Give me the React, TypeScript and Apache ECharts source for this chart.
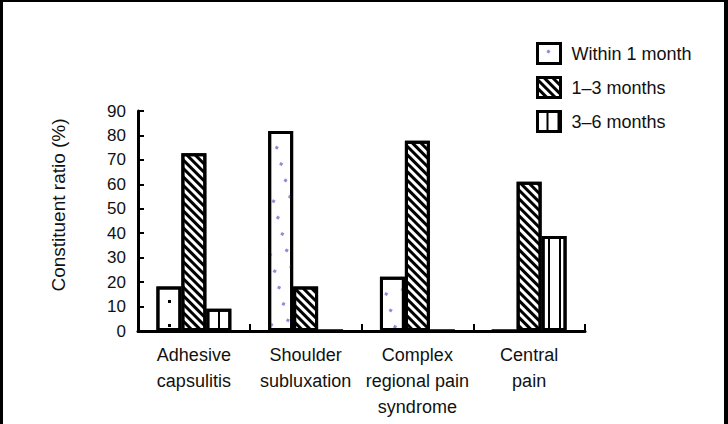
import React, { useEffect, useRef } from "react";
import * as echarts from "echarts";

const categories = [
  "Adhesive\ncapsulitis",
  "Shoulder\nsubluxation",
  "Complex\nregional pain\nsyndrome",
  "Central\npain",
];
const seriesNames = ["Within 1 month", "1–3 months", "3–6 months"];
const within1Month = [18.2, 81.8, 22.2, 0];
const months1to3 = [72.7, 18.2, 77.8, 61.1];
const months3to6 = [9.1, 0, 0, 38.9];
const yAxisName = "Constituent ratio (%)";

const FONT = "Liberation Sans, Arial, sans-serif";

export default function App() {
  const ref = useRef<HTMLDivElement>(null);
  useEffect(() => {
    if (!ref.current) return;
    const chart = echarts.init(ref.current, null, { renderer: "svg" });
    const barStyle = { color: "#fff", borderColor: "#000", borderWidth: 3 };
    const dots = (color: string) => ({
      symbol: "rect",
      symbolSize: 1,
      color,
      dashArrayX: [[3, 21], [0, 12, 3, 9]],
      dashArrayY: [3, 9],
    });
    chart.setOption({
      animation: false,
      backgroundColor: "#fff",
      aria: { enabled: true, decal: { show: true } },
      textStyle: { fontFamily: FONT, color: "#111" },
      grid: { left: 138, right: 143, top: 111, bottom: 93 },
      legend: {
        orient: "vertical",
        left: 531,
        top: 37,
        itemWidth: 23,
        itemHeight: 20,
        itemGap: 11,
        icon: "rect",
        itemStyle: { borderColor: "#000", borderWidth: 3 },
        textStyle: { fontSize: 18, color: "#111", fontFamily: FONT, padding: [0, 0, 0, 6] },
        data: seriesNames,
      },
      xAxis: {
        type: "category",
        data: categories,
        axisLine: { lineStyle: { color: "#000", width: 3 } },
        axisTick: { show: true, inside: true, length: 7, lineStyle: { color: "#000", width: 2 } },
        axisLabel: { fontSize: 18, color: "#111", lineHeight: 26, margin: 11, interval: 0, fontFamily: FONT },
      },
      yAxis: {
        type: "value",
        min: 0,
        max: 90,
        interval: 10,
        name: yAxisName,
        nameLocation: "middle",
        nameGap: 70,
        nameTextStyle: { fontSize: 19, color: "#111", fontFamily: FONT, padding: [0, 0, 0, 32] },
        splitLine: { show: false },
        axisLine: { show: true, lineStyle: { color: "#000", width: 3 } },
        axisTick: { show: true, inside: true, length: 6, lineStyle: { color: "#000", width: 2 } },
        axisLabel: { fontSize: 17, color: "#111", margin: 12, fontFamily: FONT },
      },
      series: [
        {
          name: seriesNames[0],
          type: "bar",
          barGap: "0%",
          barCategoryGap: "33%",
          data: within1Month.map((v, i) =>
            i === 0 ? { value: v, itemStyle: { decal: dots("#000") } } : v
          ),
          itemStyle: { ...barStyle, decal: dots("#8c8cd8") },
        },
        {
          name: seriesNames[1],
          type: "bar",
          barGap: "0%",
          barCategoryGap: "33%",
          data: months1to3,
          itemStyle: {
            ...barStyle,
            decal: {
              symbol: "rect",
              symbolSize: 1,
              color: "#000",
              dashArrayX: [1, 0],
              dashArrayY: [3, 3],
              rotation: Math.PI / 4,
            },
          },
        },
        {
          name: seriesNames[2],
          type: "bar",
          barGap: "0%",
          barCategoryGap: "33%",
          data: months3to6,
          itemStyle: {
            ...barStyle,
            decal: {
              symbol: "rect",
              symbolSize: 1,
              color: "#000",
              dashArrayX: [1, 0],
              dashArrayY: [2, 9],
              rotation: Math.PI / 2,
            },
          },
        },
      ],
      graphic: [
        { type: "rect", left: 0, top: 0, shape: { width: 3, height: 424 }, style: { fill: "#000" }, silent: true },
        { type: "rect", left: 0, top: 0, shape: { width: 728, height: 2 }, style: { fill: "#000" }, silent: true },
        { type: "rect", left: 724, top: 0, shape: { width: 4, height: 424 }, style: { fill: "#000" }, silent: true },
      ],
    });
    return () => chart.dispose();
  }, []);
  return (
    <div
      ref={ref}
      style={{ position: "absolute", left: 0, top: 0, width: 728, height: 424 }}
    />
  );
}
